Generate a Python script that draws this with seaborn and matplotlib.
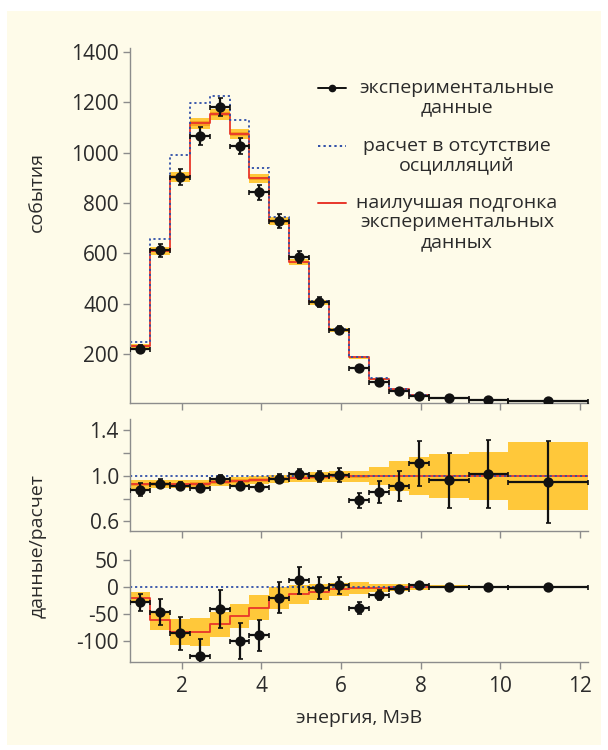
import numpy as np
import matplotlib
matplotlib.use("Agg")
import matplotlib.pyplot as plt
from matplotlib.lines import Line2D
from matplotlib.patches import Rectangle
import seaborn as sns

# ---------------- data ----------------
bin_edges = [0.7, 1.2, 1.7, 2.2, 2.7, 3.2, 3.7, 4.2, 4.7, 5.2, 5.7, 6.2,
             6.7, 7.2, 7.7, 8.2, 9.2, 10.2, 12.2]

data_counts = [220, 612, 903, 1066, 1181, 1026, 843, 728, 585, 406, 295, 145,
               89, 53, 33, 25, 17, 13]
data_err = [15, 25, 32, 35, 36, 33, 30, 28, 25, 20, 17, 12, 10, 8, 6, 5, 4, 4]
noosc_counts = [249, 657, 990, 1198, 1225, 1130, 938, 745, 586, 412, 299, 189,
                104, 60, 36, 25, 17, 13]
fit_counts = [232, 610, 904, 1116, 1153, 1073, 898, 728, 566, 405, 295, 186,
              102, 59, 36, 25, 17, 13]
fit_band = [8, 15, 20, 22, 22, 20, 18, 15, 12, 10, 8, 6, 4, 3, 2, 2, 1, 1]
fit_band_inner = [3, 6, 8, 9, 9, 8, 7, 6, 5, 4, 3, 2.5, 2, 1.5, 1, 1, 0.5, 0.5]

ratio_data = [0.88, 0.93, 0.915, 0.895, 0.97, 0.91, 0.905, 0.975, 1.02, 0.995,
              1.01, 0.785, 0.86, 0.91, 1.11, 0.96, 1.015, 0.95]
ratio_err = [0.06, 0.04, 0.035, 0.035, 0.035, 0.035, 0.035, 0.04, 0.045, 0.05,
             0.06, 0.067, 0.095, 0.13, 0.2, 0.245, 0.3, 0.36]
ratio_noosc = [1.0] * 18
ratio_fit = [0.925, 0.93, 0.925, 0.93, 0.945, 0.955, 0.965, 0.975, 0.985,
             0.99, 0.995, 0.997, 1, 1, 1, 1, 1, 1]
ratio_band = [0.04, 0.035, 0.035, 0.035, 0.035, 0.035, 0.035, 0.035, 0.035,
              0.04, 0.045, 0.05, 0.08, 0.13, 0.165, 0.19, 0.21, 0.30]
ratio_band_inner = [0.015] * 12 + [0.0] * 6

diff_data = [-29, -46, -86, -128, -41, -100, -90, -20, 12, -2, 3, -40, -15,
             -5, 3, -1, 0, 0]
diff_err = [16, 24, 31, 32, 35, 33, 29, 28, 25, 21, 16, 11, 8.5, 5, 3, 2,
            1.5, 1.5]
diff_noosc = [0.0] * 18
diff_fit = [-20, -62, -84, -84, -69, -54, -39, -21, -14, -9, -5, -2.5, -2,
            -1, -1, 0, 0, 0]
diff_band = [10, 18, 24, 26, 23, 23, 23, 20, 18, 15, 12, 11, 8, 6, 5, 3, 2, 1]
diff_band_inner = [0.0] * 18

top_yticks = [200, 400, 600, 800, 1000, 1200, 1400]
ratio_yticks = [0.6, 0.8, 1.0, 1.2, 1.4]
ratio_ylabels = ["0.6", "", "1.0", "", "1.4"]
diff_yticks = [-100, -50, 0, 50]
diff_ylabels = ["-100", "-50", "0", "50"]
x_ticks = [2, 4, 6, 8, 10, 12]

legend_lines = [["экспериментальные", "данные"],
                ["расчет в отсутствие", "осцилляций"],
                ["наилучшая подгонка", "экспериментальных", "данных"]]
ylabel_top = "события"
ylabel_low = "данные/расчет"
xlabel = "энергия, МэВ"

# ---------------- style ----------------
sns.set_theme(style="ticks")
plt.rcParams["font.family"] = ["Open Sans", "DejaVu Sans"]

CREAM = "#FEFBE9"
YELLOW = "#FFC83A"
ORANGE = "#F6A01E"
RED = "#E8362A"
BLUE = "#2F4FA8"
SPINE = "#8C8C8C"
TXT = "#2B2B2B"
TICKFS = 15
LABFS = 14

W, H = 608, 750
fig = plt.figure(figsize=(W / 100, H / 100), dpi=100, facecolor="white")
fig.patches.append(Rectangle((7 / W, 5 / H), (601 - 7) / W, (739 - 5) / H,
                             transform=fig.transFigure, facecolor=CREAM,
                             edgecolor="none", zorder=-10))


def px_axes(top, bottom, left=130, right=588):
    return fig.add_axes([left / W, (H - bottom) / H, (right - left) / W,
                         (bottom - top) / H])


ax1 = px_axes(48, 403)
ax2 = px_axes(419, 531)
ax3 = px_axes(550, 662)

edges = np.array(bin_edges)
centers = 0.5 * (edges[:-1] + edges[1:])
halfw = 0.5 * np.diff(edges)


def step_y(vals):
    v = np.asarray(vals, dtype=float)
    return np.append(v, v[-1])


def draw_panel(ax, dvals, derr, noosc, fit, band, inner):
    fit = np.asarray(fit, float)
    band = np.asarray(band, float)
    inner = np.asarray(inner, float)
    ax.fill_between(edges, step_y(fit - band), step_y(fit + band),
                    step="post", color=YELLOW, lw=0, zorder=1)
    if inner.any():
        ax.fill_between(edges, step_y(fit - inner), step_y(fit + inner),
                        step="post", color=ORANGE, lw=0, zorder=1.5)
    sns.lineplot(x=edges, y=step_y(fit), drawstyle="steps-post", color=RED,
                 lw=1.3, ax=ax, zorder=2, sort=False, estimator=None)
    sns.lineplot(x=edges, y=step_y(noosc), drawstyle="steps-post",
                 color=BLUE, lw=1.3, ax=ax, zorder=2.5, sort=False,
                 estimator=None, linestyle=(0, (1.2, 1.6)))
    ax.errorbar(centers, dvals, xerr=halfw, yerr=derr, fmt="none",
                ecolor="#111111", elinewidth=1.6, capsize=1.8,
                capthick=1.2, zorder=3)
    sns.scatterplot(x=centers, y=dvals, color="#111111", s=55,
                    edgecolor="#111111", linewidth=0, ax=ax, zorder=4)


draw_panel(ax1, data_counts, data_err, noosc_counts, fit_counts, fit_band,
           fit_band_inner)
draw_panel(ax2, ratio_data, ratio_err, ratio_noosc, ratio_fit, ratio_band,
           ratio_band_inner)
draw_panel(ax3, diff_data, diff_err, diff_noosc, diff_fit, diff_band,
           diff_band_inner)

for ax in (ax1, ax2, ax3):
    ax.set_facecolor("none")
    ax.set_xlim(0.7, 12.2)
    ax.set_xticks(x_ticks)
    ax.set_xlabel("")
    ax.set_ylabel("")
    sns.despine(ax=ax)
    for s in ("left", "bottom"):
        ax.spines[s].set_color(SPINE)
        ax.spines[s].set_linewidth(1.0)
    ax.tick_params(direction="out", length=5, width=1.0, color=SPINE,
                   labelcolor=TXT, labelsize=TICKFS, pad=3)

ax1.set_ylim(5, 1416)
ax1.set_yticks(top_yticks)
ax1.set_xticklabels([])

ax2.set_ylim(0.516, 1.50)
ax2.set_yticks(ratio_yticks)
ax2.set_yticklabels(ratio_ylabels)
ax2.set_xticklabels([])

ax3.set_ylim(-139, 68)
ax3.set_yticks(diff_yticks)
ax3.set_yticklabels(diff_ylabels)
ax3.set_xticklabels([str(t) for t in x_ticks])
ax3.tick_params(axis="x", pad=5)
ax3.set_xlabel(xlabel, fontsize=LABFS, color=TXT, labelpad=9)

fig.text(37 / W, (H - 192) / H, ylabel_top, rotation=90, ha="center",
         va="center", fontsize=LABFS, color=TXT)
fig.text(38 / W, (H - 546) / H, ylabel_low, rotation=90, ha="center",
         va="center", fontsize=LABFS, color=TXT)

# ---------------- legend (drawn by hand for centred multi-line text) ----
def fx(p):
    return p / W


def fy(p):
    return (H - p) / H


handles = [
    dict(ys=[88, 107], color="#111111", ls="-", marker=True),
    dict(ys=[146, 165], color=BLUE, ls=(0, (1.2, 1.6)), marker=False),
    dict(ys=[203, 222, 242], color=RED, ls="-", marker=False),
]
for h, lines in zip(handles, legend_lines):
    y0 = h["ys"][0]
    fig.add_artist(Line2D([fx(318), fx(346)], [fy(y0), fy(y0)],
                          transform=fig.transFigure, color=h["color"],
                          ls=h["ls"], lw=1.4))
    if h["marker"]:
        fig.add_artist(Line2D([fx(332)], [fy(y0)],
                              transform=fig.transFigure, color=h["color"],
                              marker="o", ms=4.5, ls="none"))
    for yy, line in zip(h["ys"], lines):
        fig.text(fx(457), fy(yy + 5), line, ha="center", va="baseline",
                 fontsize=LABFS, color=TXT)

fig.savefig("out.png", dpi=100, facecolor=fig.get_facecolor())
